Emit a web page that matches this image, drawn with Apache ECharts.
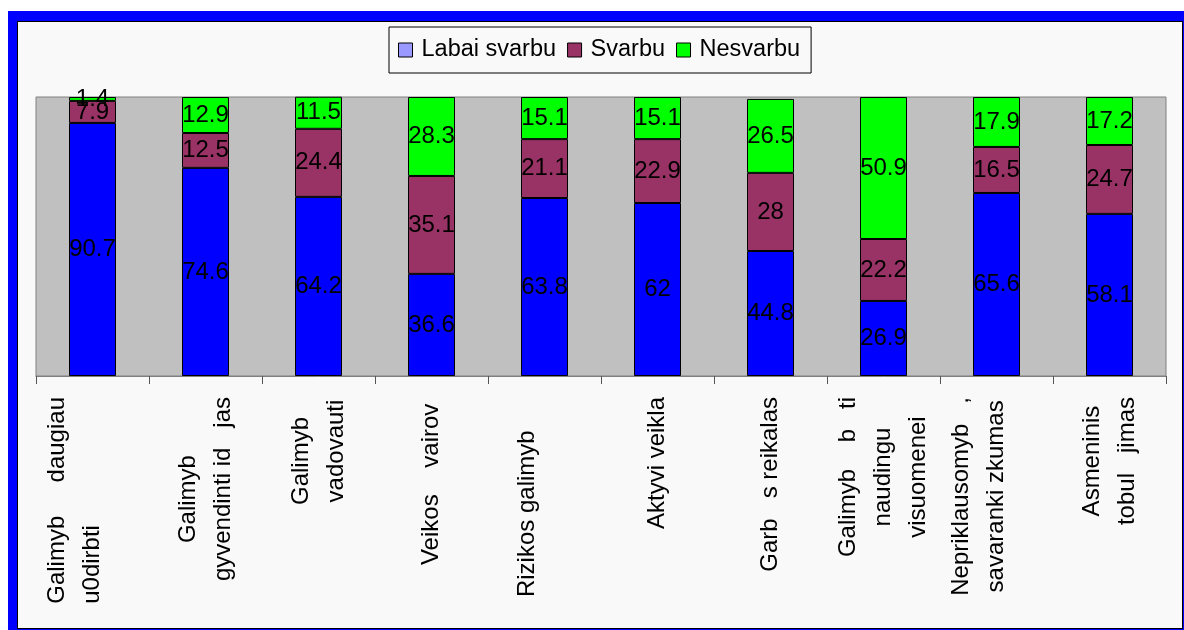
<!DOCTYPE html>
<html>
<head>
<meta charset="utf-8">
<script src="https://cdn.jsdelivr.net/npm/echarts@6/dist/echarts.min.js"></script>
<style>
  html, body { margin: 0; padding: 0; width: 1184px; height: 630px; overflow: hidden; background: #ffffff; }
  #frame { position: absolute; left: 8px; top: 11px; width: 1200px; height: 640px; background: #0000ff; }
  #panel { position: absolute; left: 17px; top: 21px; width: 1166px; height: 608px; box-sizing: border-box;
           background: #f9f9f9; border: 1px solid #000000; }
  #chart { position: absolute; left: 0; top: 0; width: 1184px; height: 630px; }
</style>
</head>
<body>
<div id="frame"></div>
<div id="panel"></div>
<div id="chart"></div>
<script>
// Category names (lines separated by \n)
const categories = [
  'Galimyb     daugiau\nu0dirbti\n ',
  'Galimyb   \ngyvendinti id   jas',
  'Galimyb   \nvadovauti',
  'Veikos    vairov ',
  'Rizikos galimyb     \n ',
  'Aktyvi veikla',
  'Garb   s reikalas',
  'Galimyb    b   ti\nnaudingu\nvisuomenei',
  'Nepriklausomyb   ,\nsavaranki zkumas\n ',
  'Asmeninis\ntobul   jimas'
];

const seriesNames = ['Labai svarbu', 'Svarbu', 'Nesvarbu'];

const labaiSvarbu = [90.7, 74.6, 64.2, 36.6, 63.8, 62, 44.8, 26.9, 65.6, 58.1];
const svarbu      = [7.9, 12.5, 24.4, 35.1, 21.1, 22.9, 28, 22.2, 16.5, 24.7];
const nesvarbu    = [1.4, 12.9, 11.5, 28.3, 15.1, 15.1, 26.5, 50.9, 17.9, 17.2];

const FONT = 'Liberation Sans, Arial, sans-serif';
const colors = ['#0000ff', '#993366', '#00ff00'];
const legendSwatch = ['#9999ff', '#993366', '#00ff00'];

// the second line of the first label sits flush with the start of the first line
const leftAlignedLines = { 0: [1] };

function formatCategory(value, index) {
  const lines = value.split('\n');
  return lines.map(function (line, i) {
    const style = (leftAlignedLines[index] || []).indexOf(i) >= 0 ? 'l' : 'c';
    return '{' + style + '|' + line + '}';
  }).join('\n');
}

const chart = echarts.init(document.getElementById('chart'), null, { renderer: 'canvas' });

function makeSeries(name, data, color) {
  return {
    name: name,
    type: 'bar',
    stack: 'total',
    data: data,
    barWidth: 47,
    itemStyle: { color: color, borderColor: '#000000', borderWidth: 1 },
    label: {
      show: true,
      position: 'inside',
      color: '#000000',
      fontFamily: FONT,
      fontSize: 24,
      textBorderWidth: 0
    },
    emphasis: { disabled: true }
  };
}

chart.setOption({
  backgroundColor: 'transparent',
  animation: false,
  textStyle: { fontFamily: FONT },
  legend: {
    left: 389,
    top: 27,
    padding: [11, 11, 11, 9],
    itemGap: 11,
    itemWidth: 14,
    itemHeight: 14,
    borderColor: '#000000',
    borderWidth: 1,
    icon: 'rect',
    itemStyle: { borderColor: '#000000', borderWidth: 1 },
    textStyle: { color: '#000000', fontFamily: FONT, fontSize: 23.5, lineHeight: 24, padding: [0, 0, 0, 4] },
    data: seriesNames.map(function (n, i) {
      return { name: n, itemStyle: { color: legendSwatch[i], borderColor: '#000000', borderWidth: 1 } };
    })
  },
  grid: {
    left: 36,
    top: 97,
    right: 18,
    bottom: 254,
    show: true,
    backgroundColor: '#c0c0c0',
    borderColor: '#808080',
    borderWidth: 1,
    containLabel: false
  },
  xAxis: {
    type: 'category',
    data: categories,
    boundaryGap: true,
    axisLine: { show: true, lineStyle: { color: '#808080', width: 1 } },
    axisTick: { show: true, alignWithLabel: false, length: 8, lineStyle: { color: '#555555', width: 1 } },
    axisLabel: {
      interval: 0,
      rotate: 90,
      margin: 21,
      color: '#000000',
      fontFamily: FONT,
      fontSize: 24,
      formatter: formatCategory,
      rich: {
        c: { align: 'center', fontSize: 24, lineHeight: 35, fontFamily: FONT, color: '#000000' },
        l: { align: 'left', fontSize: 24, lineHeight: 35, fontFamily: FONT, color: '#000000' }
      }
    },
    splitLine: { show: false }
  },
  yAxis: {
    type: 'value',
    min: 0,
    max: 100,
    interval: 20,
    show: false,
    splitLine: { show: false }
  },
  series: [
    makeSeries(seriesNames[0], labaiSvarbu, colors[0]),
    makeSeries(seriesNames[1], svarbu, colors[1]),
    makeSeries(seriesNames[2], nesvarbu, colors[2])
  ]
});
</script>
</body>
</html>
